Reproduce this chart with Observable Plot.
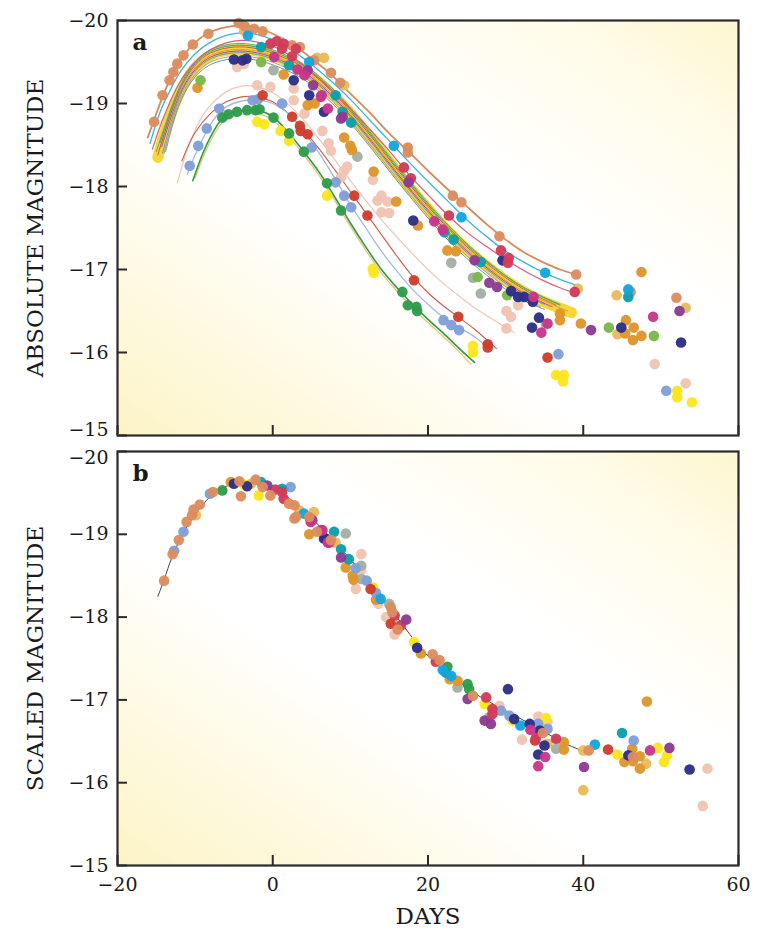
<!DOCTYPE html>
<html><head><meta charset="utf-8">
<script src="https://cdn.jsdelivr.net/npm/d3@7"></script>
<script src="https://cdn.jsdelivr.net/npm/@observablehq/plot@0.6"></script>
<style>
body{margin:0;background:#fff;}
#chart svg{display:block;}
</style>
</head><body><div id="chart"></div>
<script>
// ---------- axis ticks ----------
const xTicks = [-20, 0, 20, 40, 60];
const yTicks = [-20, -19, -18, -17, -16, -15];
const yTitleA = "ABSOLUTE MAGNITUDE";
const yTitleB = "SCALED MAGNITUDE";
const xTitle = "DAYS";

// ---------- panel a: fitted light curves [day, magnitude] ----------
const aCurveBand = [[-14.8,-18.35],[-14,-18.62],[-13,-18.9],[-12,-19.13],[-11,-19.3],[-10,-19.43],[-9,-19.52],[-8,-19.58],[-7,-19.62],[-5.5,-19.645],[-4,-19.65],[-2,-19.63],[0,-19.58],[2,-19.5],[4,-19.4],[6,-19.25],[8,-19.08],[10,-18.88],[12,-18.65],[14,-18.42],[16,-18.18],[18,-17.95],[20,-17.73],[22,-17.52],[24,-17.33],[26,-17.16],[28,-17.01],[30,-16.87],[32,-16.75],[34,-16.65],[36,-16.57],[38.5,-16.48]];
const aCurveOrange = [[-16.1,-18.59],[-15.3,-18.8],[-14.2,-19.08],[-13.3,-19.28],[-12.3,-19.46],[-11.3,-19.6],[-10.3,-19.71],[-8.3,-19.85],[-6,-19.92],[-4,-19.94],[-2,-19.91],[0,-19.84],[2.6,-19.71],[5.3,-19.52],[7.5,-19.35],[10,-19.12],[12.5,-18.89],[15,-18.64],[17.5,-18.42],[20,-18.19],[22.5,-17.97],[25,-17.76],[27.5,-17.55],[30,-17.36],[32.5,-17.2],[35,-17.08],[37,-17.0],[39.1,-16.94]];
const aCurveCyan = [[-15.8,-18.52],[-14.5,-18.9],[-13,-19.2],[-12,-19.37],[-10,-19.6],[-8,-19.74],[-6,-19.82],[-4,-19.85],[-2,-19.83],[0,-19.77],[2.5,-19.64],[5,-19.47],[7.5,-19.27],[10,-19.05],[12.5,-18.8],[15,-18.55],[17.5,-18.3],[20,-18.06],[22.5,-17.83],[25,-17.6],[27.5,-17.4],[30,-17.22],[32.5,-17.08],[35,-16.96],[37,-16.88],[39.1,-16.81]];
const aCurveCrimson = [[-15.5,-18.45],[-14,-18.85],[-12,-19.25],[-10,-19.5],[-8,-19.65],[-6,-19.73],[-4,-19.76],[-2,-19.74],[0,-19.69],[2.5,-19.56],[5,-19.38],[7.5,-19.17],[10,-18.94],[12.5,-18.69],[15,-18.43],[17.5,-18.15],[20,-17.9],[22.5,-17.66],[25,-17.45],[27.5,-17.28],[30,-17.12],[32.5,-16.98],[35,-16.86],[37,-16.78],[39.1,-16.71]];
const aCurveL1 = [[-15,-18.42],[-12,-19.2],[-10,-19.5],[-8,-19.65],[-5,-19.72],[-2,-19.7],[1,-19.61],[4,-19.47],[8,-19.15],[12,-18.72],[16,-18.25],[20,-17.8],[24,-17.4],[28,-17.07],[32,-16.8],[37,-16.58]];
const aCurveL2 = [[-14.8,-18.38],[-12,-19.16],[-10,-19.46],[-8,-19.61],[-5,-19.68],[-2,-19.66],[1,-19.57],[4,-19.43],[8,-19.11],[12,-18.68],[16,-18.21],[20,-17.76],[24,-17.36],[28,-17.04],[32,-16.78],[36.5,-16.57]];
const aCurveL3 = [[-14.2,-18.4],[-12,-19.08],[-10,-19.39],[-8,-19.54],[-5,-19.61],[-2,-19.59],[1,-19.5],[4,-19.36],[8,-19.04],[12,-18.61],[16,-18.14],[20,-17.69],[24,-17.29],[28,-16.97],[32,-16.71],[35,-16.58]];
const aCurveL4 = [[-14,-18.4],[-12,-19.04],[-10,-19.35],[-8,-19.5],[-5,-19.57],[-2,-19.55],[1,-19.46],[4,-19.32],[8,-19.0],[12,-18.57],[16,-18.1],[20,-17.65],[24,-17.25],[28,-16.93],[32,-16.67],[34.5,-16.55]];
const aCurveL5 = [[-14.6,-18.45],[-12,-19.13],[-10,-19.43],[-8,-19.58],[-5,-19.65],[-2,-19.63],[1,-19.54],[4,-19.4],[8,-19.08],[12,-18.65],[16,-18.18],[20,-17.73],[24,-17.33],[28,-17.01],[32,-16.75],[38,-16.5]];
const aCurveL6 = [[-14.5,-18.53],[-12,-19.18],[-10,-19.48],[-8,-19.63],[-5,-19.7],[-2,-19.68],[1,-19.59],[4,-19.45],[8,-19.13],[12,-18.7],[16,-18.23],[20,-17.78],[24,-17.38],[28,-17.06],[32,-16.8],[37,-16.57]];
const aCurveL7 = [[-14.3,-18.48],[-12,-19.11],[-10,-19.41],[-8,-19.56],[-5,-19.63],[-2,-19.61],[1,-19.52],[4,-19.38],[8,-19.06],[12,-18.63],[16,-18.16],[20,-17.71],[24,-17.31],[28,-16.99],[32,-16.73],[36,-16.55]];
const aCurveL8 = [[-13.8,-18.42],[-12,-19.0],[-10,-19.32],[-8,-19.47],[-5,-19.54],[-2,-19.52],[1,-19.43],[4,-19.29],[8,-18.97],[12,-18.54],[16,-18.07],[20,-17.62],[24,-17.22],[28,-16.9],[32,-16.64],[35,-16.52]];
const aCurvePale = [[-12.3,-18.04],[-11,-18.45],[-10,-18.68],[-9,-18.86],[-8,-18.98],[-6,-19.14],[-4,-19.21],[-2,-19.2],[0,-19.13],[2,-18.99],[4,-18.8],[6,-18.57],[8,-18.32],[10,-18.07],[12,-17.83],[14,-17.6],[16,-17.39],[18,-17.19],[20,-17.0],[22,-16.83],[24,-16.68],[26,-16.54],[28,-16.42],[31.1,-16.24]];
const aCurveRed = [[-11.7,-18.31],[-10,-18.65],[-8,-18.88],[-6,-19.02],[-4,-19.08],[-2,-19.08],[0,-19.02],[2,-18.88],[4,-18.68],[6,-18.45],[8,-18.2],[10,-17.94],[12,-17.68],[14,-17.42],[16,-17.16],[18,-16.92],[20,-16.72],[22,-16.56],[24,-16.42],[26,-16.28],[28.8,-16.05]];
const aCurveBlue = [[-11,-18.15],[-10,-18.38],[-9,-18.58],[-8,-18.75],[-7,-18.88],[-6,-18.96],[-4,-19.03],[-2,-19.04],[0,-19.0],[2,-18.88],[4,-18.66],[6,-18.4],[8,-18.1],[10,-17.78],[12,-17.5],[14,-17.22],[16,-16.98],[18,-16.76],[20,-16.58],[22,-16.42],[24,-16.3],[26,-16.19],[27.8,-16.05]];
const aCurveGreen = [[-10.3,-18.07],[-9,-18.4],[-8,-18.6],[-7,-18.76],[-6,-18.86],[-4,-18.91],[-2,-18.92],[0,-18.84],[2,-18.65],[4,-18.42],[6,-18.17],[8,-17.87],[10,-17.56],[12,-17.27],[14,-17.0],[16,-16.78],[18,-16.58],[20,-16.4],[22,-16.23],[24,-16.05],[26,-15.88]];
const aCurveTan = [[-10,-18.1],[-9,-18.35],[-8,-18.55],[-7,-18.71],[-6,-18.81],[-4,-18.87],[-2,-18.88],[0,-18.8],[2,-18.61],[4,-18.38],[6,-18.13],[8,-17.83],[10,-17.52],[12,-17.23],[14,-16.96],[16,-16.74],[18,-16.54],[20,-16.36],[22,-16.19],[24,-16.01],[25.5,-15.86]];

// ---------- panel a: observations [day, magnitude] ----------
const aOrange = [[-15.3,-18.78],[-14.2,-19.1],[-13.3,-19.28],[-12.8,-19.38],[-12.3,-19.48],[-11.5,-19.58],[-10.3,-19.71],[-8.3,-19.84],[-4.4,-19.97],[-3.6,-19.93],[-2.4,-19.9],[-1.3,-19.87],[2.5,-19.7],[3.5,-19.68],[5.3,-19.52],[7.5,-19.37],[8.7,-19.25],[17.4,-18.47],[17.4,-18.41],[23.2,-17.89],[24.3,-17.81],[29.2,-17.4],[39.1,-16.94],[52,-16.66],[46.1,-16.73]];
const aCyan = [[-3.2,-19.82],[4.7,-19.5],[15.6,-18.49],[24.3,-17.63],[35.1,-16.96],[45.8,-16.76]];
const aCrimson = [[-0.3,-19.72],[0.5,-19.75],[1.2,-19.66],[1.4,-19.72],[2.5,-19.57],[3,-19.66],[16.9,-18.23],[17.8,-18.1],[22.7,-17.65],[29.4,-17.23],[30.3,-17.08],[30.4,-17.14],[38.9,-16.73]];
const aMagenta = [[0.2,-19.56],[3.2,-19.41],[4.1,-19.34],[6.2,-19.08],[6.3,-19.1],[7.1,-18.94],[20.8,-17.58],[21.9,-17.48],[33.6,-16.67],[35.4,-16.35],[34.6,-16.24],[49,-16.43]];
const aPurple = [[4.5,-19.4],[5.2,-19.22],[8.8,-18.82],[9,-18.84],[17.5,-18.05],[26,-17.11],[27.9,-16.84],[28.9,-16.79],[41,-16.27],[52.4,-16.5]];
const aNavy = [[-5,-19.53],[-3.9,-19.52],[-3.4,-19.54],[2.7,-19.28],[4.7,-19.1],[6.6,-18.9],[18.1,-17.59],[29.6,-17.11],[30.7,-16.74],[31.6,-16.67],[32.4,-16.67],[33.5,-16.61],[34.3,-16.42],[33.4,-16.3],[44.9,-16.3],[52.6,-16.12]];
const aTeal = [[-1.5,-19.68],[2.1,-19.46],[8.1,-19.1],[9,-18.9],[10.1,-18.77],[22.1,-17.45],[23.3,-17.36],[26.8,-17.09],[45.8,-16.67]];
const aDarkOrange = [[-9.7,-19.19],[1.4,-19.35],[4.5,-18.98],[5.4,-19.0],[9.2,-18.59],[10,-18.49],[10.2,-18.44],[13,-18.18],[15.9,-17.82],[18.7,-17.53],[22.5,-17.23],[23.6,-17.22],[37,-16.47],[37,-16.39],[39.7,-16.35],[45.5,-16.39],[46.5,-16.3],[47.5,-16.2],[46.4,-16.15],[47.5,-16.97],[45.4,-16.23]];
const aGold = [[-3.7,-19.88],[5.7,-19.55],[6.6,-19.55],[9.2,-19.22],[39.3,-16.77],[44.3,-16.69],[44.4,-16.22],[53.2,-16.54]];
const aYellow = [[-2,-18.78],[-1.1,-18.75],[1,-18.67],[2.1,-18.55],[7,-17.89],[12.9,-17.01],[13,-16.96],[25.8,-16.08],[25.8,-16.0],[36.5,-15.73],[37.5,-15.73],[37.4,-15.65],[52.1,-15.54],[52.1,-15.46],[54,-15.4]];
const aGreen = [[-6.5,-18.83],[-5.7,-18.87],[-4.6,-18.9],[-3.3,-18.92],[-2.2,-18.92],[-1.7,-18.93],[0.1,-18.83],[2.1,-18.64],[4,-18.42],[7,-18.04],[8.8,-17.71],[16.7,-16.73],[17.4,-16.57],[18.5,-16.55],[18.6,-16.5]];
const aLightGreen = [[-9.3,-19.28],[-1.5,-19.5],[26.4,-16.91],[30.2,-16.69],[43.3,-16.3],[49.1,-16.2]];
const aBlue = [[-10.7,-18.25],[-9.6,-18.49],[-8.5,-18.7],[-6.9,-18.94],[-2.6,-19.04],[-1.9,-19.05],[1.2,-19.0],[5,-18.47],[8.1,-18.05],[9.2,-17.89],[10.1,-17.75],[22,-16.39],[23,-16.33],[24,-16.27],[36.8,-15.98],[50.7,-15.54]];
const aRed = [[-1.3,-19.1],[2.5,-18.84],[3.5,-18.73],[3.6,-18.67],[4.5,-18.63],[10.5,-17.89],[12.2,-17.65],[18.2,-16.87],[23.9,-16.43],[27.7,-16.1],[27.7,-16.06],[35.4,-15.94]];
const aPalePink = [[-4.6,-19.44],[-3.7,-19.48],[-2,-19.22],[-0.3,-19.2],[2.7,-19.04],[2.7,-19.18],[4.1,-18.88],[6.4,-18.67],[7.2,-18.52],[7.5,-18.43],[8.8,-18.11],[9.2,-18.19],[9.6,-18.24],[12.9,-18.08],[13.5,-17.83],[14,-17.89],[14.8,-17.82],[15,-17.68],[14,-17.69],[30.1,-16.5],[30.7,-16.43],[30.1,-16.29],[31.6,-16.57],[49.2,-15.86],[53.2,-15.63]];
const aGray = [[0.1,-19.4],[10.9,-18.36],[23,-17.08],[25.8,-16.9],[26.8,-16.71],[35.2,-16.34]];

// ---------- panel b: template curve and scaled observations ----------
const bTemplate = [[-14.8,-18.25],[-14,-18.45],[-13,-18.72],[-12,-18.93],[-11,-19.1],[-10,-19.24],[-9,-19.36],[-8,-19.46],[-7,-19.53],[-6,-19.58],[-5,-19.62],[-4,-19.64],[-3,-19.64],[-2,-19.62],[-1,-19.59],[0,-19.55],[1,-19.5],[2,-19.44],[3,-19.37],[4,-19.29],[5,-19.2],[6,-19.1],[8,-18.9],[10,-18.7],[12,-18.47],[14,-18.24],[16,-18.0],[18,-17.75],[20,-17.53],[22,-17.36],[24,-17.22],[26,-17.08],[28,-16.97],[30,-16.87],[32,-16.77],[34,-16.66],[36,-16.56],[38,-16.46],[40,-16.38]];
const bOrange = [[-14,-18.44],[-12.9,-18.76],[-12.1,-18.93],[-11.1,-19.15],[-10.4,-19.23],[-10.2,-19.3],[-9.4,-19.36],[-7.7,-19.51],[-4.3,-19.64],[-4.1,-19.46],[-2.2,-19.66],[-1.3,-19.57],[-0.3,-19.47],[2.1,-19.37],[2.8,-19.35],[2.8,-19.19],[3,-19.21],[4.7,-19.21],[5.7,-19.03],[7.5,-18.93],[15.2,-18.12],[15.4,-18.06],[16.1,-17.85],[20.6,-17.55],[21.5,-17.48],[25.8,-17.05],[34.8,-16.6],[40.7,-16.39],[46.4,-16.31]];
const bBlue = [[-12.7,-18.8],[-11.5,-19.03],[-8.1,-19.49],[2.3,-19.57],[10.7,-18.59],[12.1,-18.44],[13.3,-18.29],[29.4,-16.87],[30.5,-16.81],[34.2,-16.71],[35.4,-16.65],[46.5,-16.51]];
const bGreen = [[-6.5,-19.53],[22.5,-17.4],[25.1,-17.19],[25.3,-17.13]];
const bNavy = [[-5,-19.61],[-3.3,-19.58],[6.6,-18.95],[6.8,-18.95],[18.6,-17.63],[30.3,-17.13],[31.1,-16.77],[33.1,-16.71],[34.4,-16.63],[35,-16.45],[34.2,-16.34],[45.8,-16.33],[53.7,-16.16]];
const bDarkOrange = [[-5.4,-19.63],[4.7,-19.0],[9.4,-18.6],[10.3,-18.5],[10.4,-18.45],[13.3,-18.21],[19.1,-17.56],[22.8,-17.25],[23.8,-17.23],[37.5,-16.49],[37.5,-16.4],[48.2,-16.98],[46.3,-16.41],[47.3,-16.32],[45.3,-16.25],[46.4,-16.26],[47.3,-16.17]];
const bGold = [[-9.9,-19.23],[-2.8,-19.61],[3.4,-19.29],[5.3,-19.27],[8.1,-18.9],[35.4,-16.47],[40,-16.39],[40,-15.91],[48.1,-16.23]];
const bYellow = [[-3.7,-19.6],[-1.8,-19.47],[12.9,-18.36],[18.2,-17.7],[27.3,-16.95],[30.9,-16.75],[35.2,-16.78],[44.4,-16.34],[49.6,-16.42],[50.8,-16.33],[50.4,-16.25]];
const bTeal = [[-1.5,-19.63],[1.2,-19.55],[7.9,-19.03],[8.8,-18.82],[9.8,-18.7],[22.3,-17.33],[45,-16.6]];
const bCyan = [[4,-19.25],[13.9,-18.22],[21.9,-17.36],[23,-17.29],[31.9,-16.69],[41.5,-16.46]];
const bCrimson = [[0.3,-19.54],[1.2,-19.51],[1.4,-19.43],[15.7,-18.02],[16.5,-17.9],[21,-17.46],[27.5,-17.03],[28.3,-16.89],[28.3,-16.83],[33.9,-16.54],[36.5,-16.53]];
const bMagenta = [[4.9,-19.15],[6.2,-19.05],[6.4,-19.05],[7.1,-18.9],[7.3,-18.9],[33.2,-16.64],[35.1,-16.31],[34.2,-16.2],[48.6,-16.39]];
const bPurple = [[-0.7,-19.59],[4.8,-19.19],[5.1,-19.17],[8.8,-18.72],[17.2,-17.97],[25.1,-17.01],[27.3,-16.75],[28.1,-16.71],[40.1,-16.19],[51.1,-16.42]];
const bRed = [[12.6,-18.34],[15.2,-17.92],[33.8,-16.51],[43.2,-16.4]];
const bPalePink = [[11.4,-18.76],[11.4,-18.57],[10.7,-18.34],[13.6,-18.16],[14.6,-18.0],[15.7,-17.92],[15.7,-17.79],[29.2,-16.93],[32.1,-16.52],[34.2,-16.8],[35.4,-16.73],[56,-16.17],[55.4,-15.72]];
const bGray = [[9.4,-19.01],[11.4,-18.62],[11.4,-18.46],[15,-18.16],[23.8,-17.15],[27.9,-16.79],[36.5,-16.41]];

// ---------- styles ----------
const palette = {
  orange: "#dc8d5f", cyan: "#12a7df", crimson: "#d13b5a", magenta: "#c8358a",
  purple: "#8e3b92", navy: "#2c2f86", teal: "#0aa0ad", darkOrange: "#e0952b",
  gold: "#eab95c", yellow: "#fde61c", green: "#2f9c4c", lightGreen: "#7ab84a",
  blue: "#7e9fd9", red: "#cf3d2c", palePink: "#efc4b2", gray: "#a3b0a5"
};
const gradStops = [[0, "#fcf4c6"], [0.2, "#fefae2"], [0.4, "#ffffff"], [0.62, "#ffffff"], [0.84, "#fffcea"], [1, "#fdf6cf"]];
const ink = "#2a2a2a";
const font = "'DejaVu Serif', serif";

const X = d => d[0], Y = d => d[1];
const fmt = d => d < 0 ? "\u2212" + Math.abs(d) : String(d);

function lineMark(pts, stroke, width, opacity = 1) {
  return Plot.line(pts, {x: X, y: Y, stroke, strokeWidth: width, strokeOpacity: opacity,
    curve: "catmull-rom", strokeLinecap: "round"});
}
function dotMark(pts, key) {
  return Plot.dot(pts, {x: X, y: Y, r: 5.3, fill: palette[key], fillOpacity: 0.96, stroke: "none"});
}

function addGradient(svg, id) {
  const ns = "http://www.w3.org/2000/svg";
  const defs = document.createElementNS(ns, "defs");
  const g = document.createElementNS(ns, "linearGradient");
  g.setAttribute("id", id);
  g.setAttribute("x1", "0"); g.setAttribute("y1", "1");
  g.setAttribute("x2", "1"); g.setAttribute("y2", "0");
  for (const [o, c] of gradStops) {
    const s = document.createElementNS(ns, "stop");
    s.setAttribute("offset", o); s.setAttribute("stop-color", c);
    g.appendChild(s);
  }
  defs.appendChild(g);
  svg.insertBefore(defs, svg.firstChild);
}

function yLabelAxis(ticks, dy) {
  return Plot.axisY(ticks, {anchor: "left", tickSize: 0, tickPadding: 9, tickFormat: fmt, fontSize: 19, fill: "#1a1a1a", dy, label: null});
}

function panel({gid, height, marginTop, marginBottom, lines, dots, letter, ytitle, showX}) {
  // the labels where the two panels meet sit inside their own panel, as in the original
  const yLabelMarks = showX
    ? [yLabelAxis(yTicks.slice(1), 0), yLabelAxis(yTicks.slice(0, 1), 6)]
    : [yLabelAxis(yTicks.slice(0, -1), 0), yLabelAxis(yTicks.slice(-1), -6)];
  const marks = [
    Plot.frame({fill: `url(#${gid})`, stroke: "none"}),
    ...lines,
    ...dots,
    Plot.frame({stroke: ink, strokeWidth: 2.2}),
    Plot.axisY(yTicks, {anchor: "left", tickSize: 10, dx: 10, tickFormat: () => "", stroke: ink, strokeWidth: 2, label: null}),
    ...yLabelMarks,
    Plot.axisX(xTicks, {anchor: "bottom", tickSize: 10, dy: -10, tickFormat: () => "", stroke: ink, strokeWidth: 2, label: null}),
    Plot.text([letter], {text: d => d, frameAnchor: "top-left", dx: 15, dy: 13, fontSize: 23, fontWeight: "bold", textAnchor: "start", lineAnchor: "top", fill: "#1a1a1a"}),
    Plot.text([ytitle], {text: d => d, frameAnchor: "left", dx: -82, rotate: -90, fontSize: 23, textAnchor: "middle", lineAnchor: "middle", fill: "#1a1a1a"})
  ];
  if (showX) {
    marks.push(
      Plot.axisX(xTicks, {anchor: "bottom", tickSize: 0, tickPadding: 12, tickFormat: fmt, fontSize: 19, fill: "#1a1a1a", label: null}),
      Plot.text([xTitle], {text: d => d, frameAnchor: "bottom", dy: 51, fontSize: 23, lineAnchor: "middle", textAnchor: "middle", fill: "#1a1a1a"})
    );
  }
  const svg = Plot.plot({
    width: 765, height, marginLeft: 117, marginRight: 27, marginTop, marginBottom,
    style: {fontFamily: font, fontSize: "19px", background: "transparent", color: "#1a1a1a", overflow: "visible"},
    x: {domain: [-20, 60]},
    y: {domain: [-15, -20]},
    marks
  });
  addGradient(svg, gid);
  return svg;
}

const linesA = [
  lineMark(aCurveBand, "#f6d11c", 11, 0.88),
  lineMark(aCurveL8, "#7f8f8a", 1),
  lineMark(aCurveL4, "#98a89c", 1),
  lineMark(aCurveL3, "#6f93d6", 1),
  lineMark(aCurveL7, "#9b4a9e", 1),
  lineMark(aCurveL5, "#e39a3c", 1),
  lineMark(aCurveL2, "#d9534f", 1),
  lineMark(aCurveL6, "#2aa7a9", 1),
  lineMark(aCurveL1, "#5aae4f", 1),
  lineMark(aCurvePale, "#efc6b6", 1.2),
  lineMark(aCurveRed, "#d0584a", 1.1),
  lineMark(aCurveBlue, "#a3b8e3", 1.3),
  lineMark(aCurveTan, "#e9c77f", 1.4),
  lineMark(aCurveGreen, "#2e9b4b", 1.6),
  lineMark(aCurveCrimson, "#d66078", 1.2),
  lineMark(aCurveCyan, "#3cb3e0", 1.3),
  lineMark(aCurveOrange, "#d98a5c", 1.8)
];
const dotsA = [
  dotMark(aPalePink, "palePink"), dotMark(aGray, "gray"), dotMark(aYellow, "yellow"),
  dotMark(aGold, "gold"), dotMark(aDarkOrange, "darkOrange"), dotMark(aLightGreen, "lightGreen"),
  dotMark(aBlue, "blue"), dotMark(aGreen, "green"), dotMark(aRed, "red"),
  dotMark(aOrange, "orange"), dotMark(aTeal, "teal"), dotMark(aCyan, "cyan"),
  dotMark(aNavy, "navy"), dotMark(aCrimson, "crimson"), dotMark(aPurple, "purple"),
  dotMark(aMagenta, "magenta")
];
const linesB = [lineMark(bTemplate, "#444", 1)];
const dotsB = [
  dotMark(bPalePink, "palePink"), dotMark(bGray, "gray"), dotMark(bYellow, "yellow"),
  dotMark(bGold, "gold"), dotMark(bDarkOrange, "darkOrange"), dotMark(bGreen, "green"),
  dotMark(bBlue, "blue"), dotMark(bRed, "red"), dotMark(bTeal, "teal"),
  dotMark(bCyan, "cyan"), dotMark(bNavy, "navy"), dotMark(bCrimson, "crimson"),
  dotMark(bPurple, "purple"), dotMark(bMagenta, "magenta"), dotMark(bOrange, "orange")
];

const chart = document.getElementById("chart");
chart.appendChild(panel({gid: "bgA", height: 443, marginTop: 20, marginBottom: 8, lines: linesA, dots: dotsA, letter: "a", ytitle: yTitleA, showX: false}));
chart.appendChild(panel({gid: "bgB", height: 497, marginTop: 8, marginBottom: 75, lines: linesB, dots: dotsB, letter: "b", ytitle: yTitleB, showX: true}));
</script>
</body></html>
